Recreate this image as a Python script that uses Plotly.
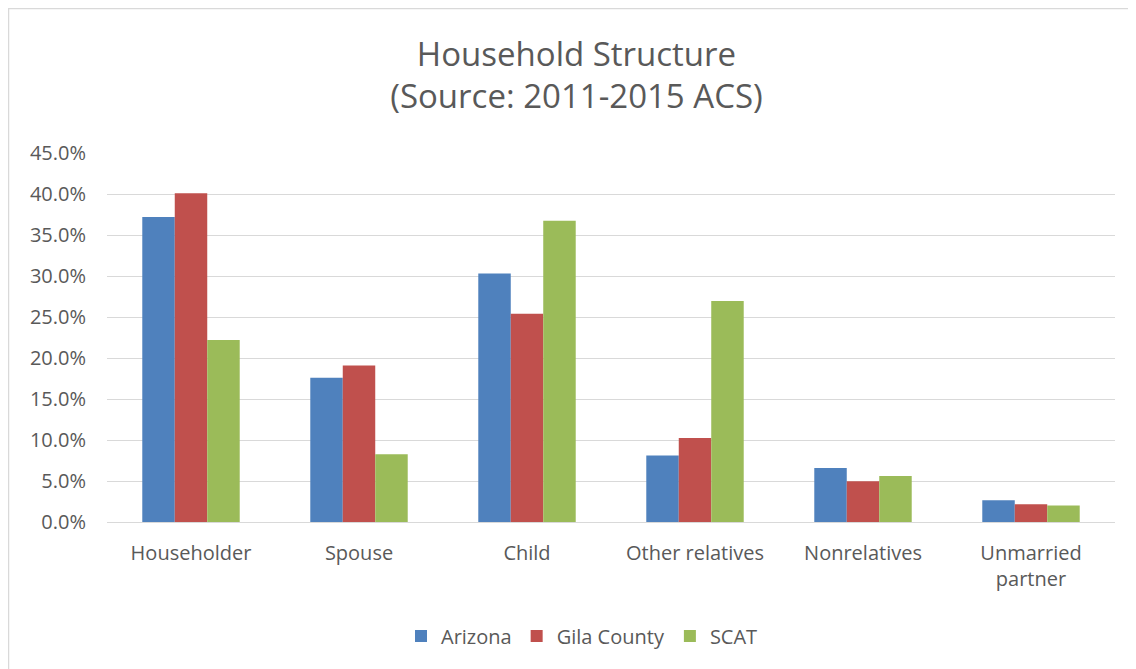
import plotly.graph_objects as go

categories = ["Householder", "Spouse", "Child", "Other relatives", "Nonrelatives", "Unmarried<br>partner"]
arizona = [37.2, 17.6, 30.3, 8.1, 6.6, 2.65]
gila = [40.1, 19.1, 25.4, 10.25, 4.96, 2.16]
scat = [22.2, 8.25, 36.75, 26.95, 5.6, 2.0]
y_ticks = [0, 5, 10, 15, 20, 25, 30, 35, 40, 45]

FONT = "Open Sans"
TXT = "#595959"

fig = go.Figure()
for name, vals, col in [("Arizona", arizona, "#4F81BD"), ("Gila County", gila, "#C0504D"), ("SCAT", scat, "#9BBB59")]:
    fig.add_trace(go.Bar(name=name, x=categories, y=vals, marker=dict(color=col, line=dict(width=0))))

OFF = 8  # page body offset
W, H = 1136 - OFF, 669 - OFF
L, R, T, B = 107 - OFF, 1115 - OFF, 153 - OFF, 522 - OFF
pw, ph = R - L, B - T

def px(x):
    return (x - OFF - L) / pw

def py(y):
    return (B - (y - OFF)) / ph

fig.update_layout(
    width=W, height=H,
    margin=dict(l=L, r=W - R, t=T, b=H - B, pad=0),
    paper_bgcolor="white", plot_bgcolor="white",
    barmode="group", bargap=0.42, bargroupgap=0,
    font=dict(family=FONT, color=TXT, size=20),
    title=dict(text="Household Structure<br>(Source: 2011-2015 ACS)", x=(576.5 - OFF) / W, xanchor="center",
               y=1 - (65.5 - OFF) / H, yanchor="middle", font=dict(size=33, color=TXT, family=FONT)),
    xaxis=dict(showgrid=False, showline=True, linecolor="#d9d9d9", linewidth=1, ticks="",
               tickfont=dict(size=20, color=TXT), ticklabelstandoff=13),
    yaxis=dict(range=[0, 45], tickvals=y_ticks, ticktext=[f"{v:.1f}%" for v in y_ticks],
               showgrid=True, gridcolor="#d9d9d9", gridwidth=1, zeroline=False,
               showline=False, ticks="", ticklabelstandoff=20, tickfont=dict(size=20, color=TXT)),
    legend=dict(orientation="h", x=px(582), xanchor="center", y=py(636), yanchor="middle",
                font=dict(size=20, color=TXT), itemwidth=30, traceorder="normal"),
    shapes=[dict(type="rect", xref="paper", yref="paper", x0=px(8.5), x1=px(1145), y0=py(690), y1=py(8.5),
                 line=dict(color="#d9d9d9", width=1.5), fillcolor="rgba(0,0,0,0)", layer="below")],
)

fig.write_html("out.html")
